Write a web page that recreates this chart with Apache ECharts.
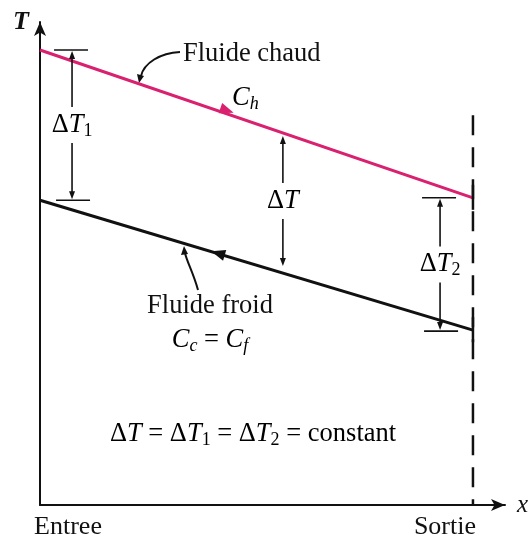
<!DOCTYPE html>
<html>
<head>
<meta charset="utf-8">
<script src="https://cdn.jsdelivr.net/npm/echarts@6/dist/echarts.min.js"></script>
<style>
html, body { margin: 0; padding: 0; background: #fff; }
#main { width: 528px; height: 541px; }
</style>
</head>
<body>
<div id="main"></div>
<script>
// axis labels at entry / exit
const xLabels = { 0: "Entree", 1: "Sortie" };
// temperature profiles (x: 0 = entree, 1 = sortie)
const hotLine = [[0, 94.2], [1, 63.6]];
const coldLine = [[0, 63.1], [1, 36.2]];
// dashed line at the exit
const sortieLine = [[1, 80.7], [1, 0]];
// delta T brackets
const bracketX = [0.074, 0.561, 0.924];
const bracketTop = [94.2, 76.6, 63.6];
const bracketBottom = [63.1, 49.3, 36.0];
const bracketSub = ["1", "", "2"];
const bracketCaps = [1, 0, 1];
// flow direction arrows
const flowX = [0.432, 0.411];
const flowY = [81.7, 52.1];
const flowDir = [1, -1];

const FONT = "Liberation Serif";
const INK = "#111";
const HOT = "#d9216f";
const FS = 26.5;

const richMath = {
  n: { fontFamily: FONT, fontSize: FS, color: INK, lineHeight: 30, verticalAlign: "middle" },
  i: { fontFamily: FONT, fontSize: FS, fontStyle: "italic", color: INK, lineHeight: 30, verticalAlign: "middle" },
  s: { fontFamily: FONT, fontSize: 18, color: INK, padding: [12, 0, 0, 0], verticalAlign: "bottom" },
  si: { fontFamily: FONT, fontSize: 18, fontStyle: "italic", color: INK, padding: [12, 0, 0, 0], verticalAlign: "bottom" },
};

const chart = echarts.init(document.getElementById("main"));

const option = {
  animation: false,
  backgroundColor: "#fff",
  grid: { left: 40, right: 23, top: 22, bottom: 36, outerBoundsMode: "none" },
  xAxis: {
    type: "value",
    min: 0,
    max: 1.074,
    interval: 1,
    splitLine: { show: false },
    axisTick: { show: false },
    axisLine: {
      lineStyle: { color: INK, width: 2 },
      symbol: ["none", "arrow"],
      symbolSize: [9, 14],
    },
    axisLabel: {
      margin: 9,
      formatter: (v) => {
        if (v === 0) return "{l|" + xLabels[0] + "}";
        if (v === 1) return "{r|" + xLabels[1] + "}";
        return "";
      },
      rich: {
        l: { fontFamily: FONT, fontSize: 26, color: INK, padding: [0, 0, 0, 56] },
        r: { fontFamily: FONT, fontSize: 26, color: INK, padding: [0, 56, 0, 0] },
      },
    },
    name: "x",
    nameLocation: "end",
    nameGap: 12,
    nameTextStyle: { fontFamily: FONT, fontStyle: "italic", fontSize: 25, color: INK, align: "left", verticalAlign: "middle" },
  },
  yAxis: {
    type: "value",
    min: 0,
    max: 100,
    splitLine: { show: false },
    axisTick: { show: false },
    axisLabel: { show: false },
    axisLine: {
      show: true,
      lineStyle: { color: INK, width: 2 },
      symbol: ["none", "arrow"],
      symbolSize: [9, 14],
    },
    name: "T",
    nameLocation: "end",
    nameGap: 0,
    nameTextStyle: {
      fontFamily: FONT, fontStyle: "italic", fontWeight: "bold", fontSize: 26, color: INK,
      align: "right", verticalAlign: "middle", padding: [0, 11, 0, 0],
    },
  },
  graphic: [
    // leader for hot fluid
    { type: "bezierCurve", shape: { x1: 180, y1: 52, cpx1: 160, cpy1: 53, cpx2: 144, cpy2: 63, x2: 141, y2: 76 }, style: { stroke: INK, lineWidth: 2, fill: null } },
    { type: "polygon", shape: { points: [[139, 83], [137, 74], [144, 76]] }, style: { fill: INK } },
    { type: "text", left: 183, top: 41, style: { text: "Fluide chaud", fontFamily: FONT, fontSize: FS, fill: INK } },
    { type: "text", left: 232, top: 85, style: { text: "{i|C}{si|h}", rich: richMath } },
    // leader for cold fluid
    { type: "bezierCurve", shape: { x1: 198, y1: 290, cpx1: 193, cpy1: 272, cpx2: 187, cpy2: 262, x2: 185, y2: 253 }, style: { stroke: INK, lineWidth: 2, fill: null } },
    { type: "polygon", shape: { points: [[184, 246], [181, 255], [188, 254]] }, style: { fill: INK } },
    { type: "text", x: 210, y: 306, style: { text: "Fluide froid", fontFamily: FONT, fontSize: FS, fill: INK, align: "center", verticalAlign: "middle" } },
    { type: "text", x: 210, y: 340, style: { text: "{i|C}{si|c}{n| = }{i|C}{si|f}", rich: richMath, align: "center", verticalAlign: "middle" } },
    // relation
    {
      type: "text", x: 253, y: 434,
      style: { text: "{n|Δ}{i|T}{n| = Δ}{i|T}{s|1}{n| = Δ}{i|T}{s|2}{n| = constant}", rich: richMath, align: "center", verticalAlign: "middle" },
    },
  ],
  series: [
    {
      type: "line",
      data: sortieLine,
      symbol: "none",
      lineStyle: { color: INK, width: 2.5, type: [20, 12] },
      z: 2,
    },
    {
      type: "line",
      data: hotLine,
      symbol: "none",
      lineStyle: { color: HOT, width: 3 },
      z: 3,
    },
    {
      type: "line",
      data: coldLine,
      symbol: "none",
      lineStyle: { color: INK, width: 3 },
      z: 3,
    },
    {
      // small solid ticks where the lines meet the exit
      type: "custom",
      data: [hotLine[1], coldLine[1]],
      renderItem: (params, api) => {
        const p = api.coord([api.value(0), api.value(1)]);
        return { type: "line", shape: { x1: p[0], y1: p[1] - 13, x2: p[0], y2: p[1] + 12 }, style: { stroke: INK, lineWidth: 2.5 } };
      },
      z: 4,
    },
    {
      // flow direction arrows
      type: "custom",
      data: flowX.map((x, i) => [x, flowY[i], flowDir[i], i]),
      renderItem: (params, api) => {
        const line = api.value(3) === 0 ? hotLine : coldLine;
        const a = api.coord(line[0]);
        const b = api.coord(line[1]);
        let ang = Math.atan2(b[1] - a[1], b[0] - a[0]);
        if (api.value(2) < 0) ang += Math.PI;
        const p = api.coord([api.value(0), api.value(1)]);
        const c = Math.cos(ang), s = Math.sin(ang);
        const L = 14, W = 5.5;
        const tip = [p[0] + c * L / 2, p[1] + s * L / 2];
        const back = [p[0] - c * L / 2, p[1] - s * L / 2];
        return {
          type: "polygon",
          shape: { points: [tip, [back[0] - s * W, back[1] + c * W], [back[0] + s * W, back[1] - c * W]] },
          style: { fill: api.value(3) === 0 ? HOT : INK },
        };
      },
      z: 5,
    },
    {
      // delta T dimension arrows
      type: "custom",
      data: bracketX.map((x, i) => [x, bracketTop[i], bracketBottom[i], bracketCaps[i], i]),
      renderItem: (params, api) => {
        const top = api.coord([api.value(0), api.value(1)]);
        const bot = api.coord([api.value(0), api.value(2)]);
        const x = top[0];
        const mid = (top[1] + bot[1]) / 2;
        const gap = 18;
        const st = { stroke: INK, lineWidth: 1.6 };
        const sub = bracketSub[api.value(4)];
        const children = [
          { type: "line", shape: { x1: x, y1: top[1] + 6, x2: x, y2: mid - gap }, style: st },
          { type: "line", shape: { x1: x, y1: mid + gap, x2: x, y2: bot[1] - 6 }, style: st },
          { type: "polygon", shape: { points: [[x, top[1] + 1], [x - 3, top[1] + 9], [x + 3, top[1] + 9]] }, style: { fill: INK } },
          { type: "polygon", shape: { points: [[x, bot[1] - 1], [x - 3, bot[1] - 9], [x + 3, bot[1] - 9]] }, style: { fill: INK } },
          {
            type: "text", x: x, y: mid,
            style: { text: "{n|Δ}{i|T}" + (sub ? "{s|" + sub + "}" : ""), rich: richMath, align: "center", verticalAlign: "middle" },
          },
        ];
        if (api.value(3)) {
          children.push({ type: "line", shape: { x1: x - 18, y1: top[1], x2: x + 16, y2: top[1] }, style: st });
          children.push({ type: "line", shape: { x1: x - 16, y1: bot[1], x2: x + 18, y2: bot[1] }, style: st });
        }
        return { type: "group", children: children };
      },
      z: 5,
    },
  ],
};

chart.setOption(option);
</script>
</body>
</html>
